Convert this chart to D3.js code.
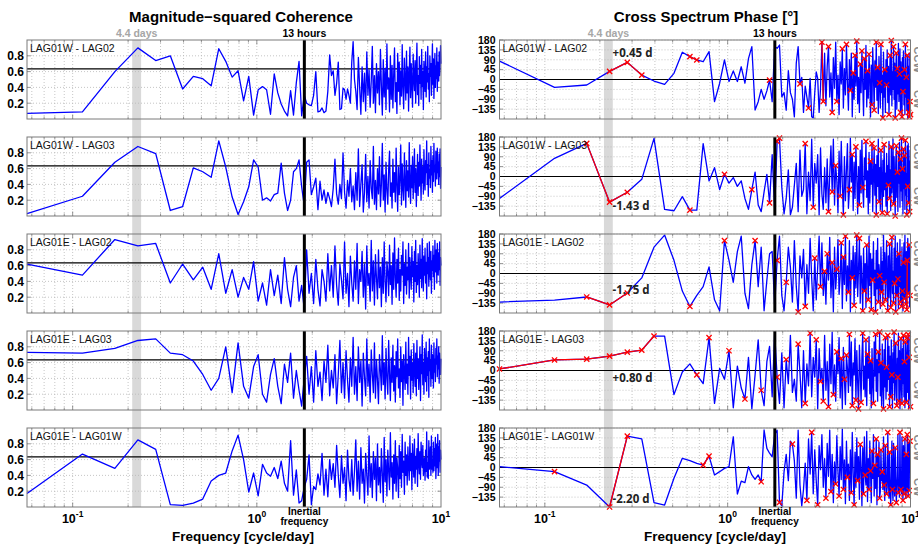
<!DOCTYPE html>
<html>
<head>
<meta charset="utf-8">
<script src="https://cdn.jsdelivr.net/npm/d3@7"></script>
<style>
  html, body { margin: 0; padding: 0; background: #fff; }
  svg { display: block; font-family: "Liberation Sans", Arial, Helvetica, sans-serif; }
</style>
</head>
<body>
<svg id="chart" width="918" height="545"></svg>
<script>
// ---- Frequency bins: uniform spectral resolution up to 10 cycles/day ----
const nBins = 177;
const freqStep = 10 / 177;             // cycle/day
const cohThreshold = 0.635;            // significance level of the coherence
const inertialFreq = 24 / 13.25;       // cycle/day (~13 hours)
const bandDays = [4.25, 4.75];         // shaded band around the 4.4-day period
const bandPeriod = 4.4;                // days, used for the time lag labels
const bandBin = 4;                     // bin index of the 4.4-day period

const pairLabels = ["LAG01W - LAG02", "LAG01W - LAG03", "LAG01E - LAG02", "LAG01E - LAG03", "LAG01E - LAG01W"];
const cohTicks = [0.2, 0.4, 0.6, 0.8];
const phaseTicks = [180, 135, 90, 45, 0, -45, -90, -135];
const decadeTicks = [{v: 0.1, exp: "-1"}, {v: 1, exp: "0"}, {v: 10, exp: "1"}];

// ---- Magnitude-squared coherence ----
const cohW02 = [
.07,.09,.60,.90,.74,.80,.38,.54,.51,.42,.89,.73,.53,.61,.23,.54,.05,.37,.41,.37,
.06,.57,.33,.19,.10,.04,.36,.05,.46,.73,.04,.30,.20,.18,.17,.30,.60,.09,.10,.14,
.08,.10,.35,.81,.55,.61,.30,.45,.72,.12,.13,.39,.37,.25,.38,.30,.20,.72,.98,.50,
.35,.12,.78,.40,.06,.66,.22,.58,.10,.85,.30,.62,.15,.48,.92,.20,.55,.08,.70,.33,
.60,.18,.88,.42,.05,.75,.28,.64,.12,.95,.38,.52,.09,.80,.25,.68,.14,.57,.90,.22,
.46,.07,.83,.35,.72,.18,.61,.29,.94,.40,.13,.77,.50,.24,.86,.33,.66,.10,.58,.91,
.27,.70,.44,.15,.82,.52,.36,.74,.20,.63,.96,.31,.55,.17,.79,.45,.68,.25,.88,.41,
.60,.12,.73,.50,.35,.85,.28,.66,.47,.92,.38,.57,.22,.80,.54,.70,.30,.62,.95,.44,
.76,.26,.58,.83,.40,.67,.51,.90,.35,.72,.60,.48,.85,.55,.65,.93,.70
];
const cohW03 = [
.03,.25,.68,.88,.79,.07,.12,.61,.56,.49,.95,.62,.24,.02,.18,.37,.71,.62,.20,.23,
.19,.27,.29,.67,.29,.07,.20,.56,.60,.71,.37,.13,.68,.71,.27,.37,.48,.08,.44,.20,
.33,.16,.30,.22,.12,.35,.72,.28,.15,.40,.22,.80,.30,.10,.45,.25,.60,.18,.38,.08,
.55,.20,.85,.12,.40,.65,.05,.30,.78,.18,.50,.10,.70,.35,.22,.88,.15,.45,.08,.60,
.28,.75,.12,.40,.92,.20,.52,.05,.68,.33,.15,.58,.82,.25,.42,.10,.72,.30,.55,.18,
.86,.38,.06,.62,.27,.48,.90,.14,.66,.35,.20,.80,.44,.11,.70,.32,.57,.24,.93,.40,
.16,.64,.36,.75,.22,.52,.85,.30,.60,.12,.45,.78,.26,.68,.38,.90,.50,.20,.72,.42,
.62,.28,.84,.46,.33,.70,.55,.95,.40,.65,.25,.80,.48,.58,.36,.88,.52,.70,.30,.76,
.44,.92,.56,.64,.38,.82,.60,.47,.86,.55,.68,.40,.78,.50,.85,.35,.62
];
const cohE02 = [
.62,.48,.93,.85,.88,.38,.62,.42,.58,.30,.75,.25,.55,.20,.45,.30,.65,.15,.38,.10,
.55,.22,.48,.12,.70,.30,.08,.45,.60,.15,.35,.05,.80,.25,.50,.12,.68,.30,.09,.55,
.40,.15,.75,.28,.60,.20,.85,.35,.10,.62,.42,.18,.90,.25,.50,.08,.72,.38,.15,.66,
.30,.88,.12,.55,.40,.78,.20,.62,.05,.85,.35,.50,.15,.92,.28,.66,.10,.74,.44,.18,
.80,.32,.58,.08,.70,.25,.90,.40,.14,.65,.52,.22,.86,.36,.60,.11,.76,.30,.95,.45,
.20,.68,.38,.82,.16,.55,.28,.73,.48,.90,.12,.62,.35,.80,.24,.58,.42,.88,.19,.70,
.50,.30,.84,.46,.65,.14,.78,.40,.92,.26,.60,.36,.75,.52,.20,.86,.44,.68,.32,.94,
.56,.28,.72,.48,.82,.38,.64,.18,.88,.50,.70,.34,.90,.58,.42,.78,.25,.66,.54,.85,
.46,.73,.30,.92,.60,.52,.80,.38,.88,.64,.48,.76,.55,.90,.35,.70,.60
];
const cohE03 = [
.73,.72,.78,.88,.90,.72,.70,.62,.45,.25,.40,.80,.22,.85,.30,.15,.55,.70,.20,.10,
.45,.65,.30,.08,.58,.35,.72,.15,.50,.25,.05,.40,.68,.20,.55,.10,.75,.30,.48,.12,
.62,.35,.82,.18,.50,.28,.70,.08,.45,.88,.22,.60,.15,.75,.38,.10,.66,.30,.92,.20,
.55,.12,.80,.35,.62,.05,.72,.42,.18,.90,.30,.58,.10,.76,.45,.22,.85,.15,.64,.38,
.08,.70,.50,.25,.94,.32,.60,.14,.78,.40,.20,.88,.46,.12,.66,.35,.82,.24,.56,.10,
.74,.42,.90,.28,.52,.16,.80,.36,.62,.06,.70,.48,.26,.86,.34,.58,.20,.92,.44,.68,
.14,.76,.38,.60,.22,.84,.50,.30,.72,.18,.88,.40,.65,.26,.54,.80,.12,.70,.46,.95,
.32,.60,.20,.78,.52,.36,.86,.24,.66,.44,.74,.16,.90,.50,.62,.30,.82,.40,.70,.56,
.28,.85,.48,.64,.36,.78,.58,.90,.42,.68,.52,.80,.34,.72,.60,.45,.65
];
const cohEW = [
.17,.67,.49,.85,.73,.03,.02,.05,.10,.33,.40,.43,.71,.91,.60,.19,.43,.14,.54,.43,
.39,.50,.36,.58,.30,.20,.84,.15,.47,.05,.08,.25,.35,.66,.03,.26,.22,.42,.28,.68,
.15,.48,.13,.60,.35,.55,.25,.78,.40,.12,.65,.30,.50,.08,.72,.35,.20,.60,.15,.45,
.85,.20,.58,.10,.75,.30,.48,.05,.68,.40,.15,.90,.25,.55,.12,.70,.35,.62,.08,.80,
.28,.50,.18,.74,.42,.06,.88,.32,.60,.14,.72,.45,.22,.94,.38,.56,.10,.66,.30,.84,
.20,.62,.48,.12,.78,.36,.70,.25,.92,.44,.58,.16,.82,.40,.66,.28,.76,.52,.34,.90,
.46,.68,.22,.80,.55,.38,.86,.30,.64,.48,.74,.26,.93,.58,.42,.70,.35,.82,.60,.50,
.78,.40,.58,.62,.34,.72,.45,.95,.38,.56,.36,.84,.48,.52,.76,.40,.90,.48,.60,.44,
.82,.46,.74,.52,.88,.36,.58,.80,.50,.92,.40,.76,.58,.84,.44,.72,.60
];

// ---- Cross spectrum phase (degrees) ----
const phaseW02 = [
84,-36,-25,36.82,78,20,-7,-22,28,124,104,89,81,127,-101,-17,89,-9,39,-9,
58,-17,95,150,-139,-101,-45,-90,-52,-3,-101,150,142,157,-79,-60,-140,40,-60,-90,
-170,75,150,-20,10,-150,-30,-80,-130,5,-170,-175,-60,35,5,-150,-40,170,-100,120,
-120,60,150,-80,30,-150,100,-40,170,-100,20,-160,80,-20,140,-130,50,-70,160,-10,
-140,90,-50,120,-170,30,-90,110,-30,175,-110,10,-150,70,-60,130,-20,-165,95,-45,
155,-125,40,-85,115,-5,-170,65,-115,145,25,-140,85,-35,170,-95,55,-155,105,-15,
-130,160,-60,20,-175,125,-80,45,-150,90,-25,135,-105,60,-160,15,110,-70,178,-120,
35,-45,150,-90,75,-175,5,120,-135,50,-65,165,-100,25,140,-150,80,-30,-170,100,
-55,130,-115,45,-160,160,-80,10,-140,110,-175,60,-150,120,-170,-100,-160
];
const phaseW03 = [
-100,83,151,-117,-72,-13,174,-150,-156,-92,-153,-153,150,-20,40,-60,10,-30,-5,-45,
-20,-100,-150,-60,20,-130,-160,-70,10,-120,100,-150,160,175,-50,-170,-100,30,-175,-140,
-40,60,-160,120,-90,-60,150,-170,20,-110,170,-140,60,-30,100,-175,130,-80,-150,40,
-120,80,-160,10,140,-70,170,-130,50,-20,-165,115,-90,160,-40,-175,90,-110,30,150,
-145,-60,175,-25,100,-155,65,-100,135,-10,-170,45,-130,120,-75,165,-50,-140,85,-15,
160,-95,25,-170,110,-120,70,-35,150,-160,5,130,-85,55,-175,95,-45,170,-115,40,
-150,120,-20,-165,75,-90,145,-60,15,-135,105,-170,50,-40,160,-100,30,-155,135,-75,
-10,170,-125,90,-50,-180,60,140,-95,20,-160,110,-30,155,-140,80,-65,175,-110,35,
-170,125,-55,95,-150,165,-85,10,-175,140,-45,150,-120,70,-160,120,-100
];
const phaseE02 = [
-130,-121,-107,-143.18,-89,-20,120,175,60,-80,-150,-100,-60,30,-120,-170,150,60,-40,100,
170,-90,-160,40,150,-60,120,-170,-30,90,100,-150,60,170,-100,-170,-40,120,30,-130,
150,-60,-175,80,-20,110,-150,40,-90,160,-20,-170,70,-120,30,170,-60,140,-100,10,
-140,90,-30,165,-110,50,-175,120,-70,20,155,-95,-15,140,-160,75,-50,170,-125,35,
-85,150,-175,60,-20,125,-145,95,-65,175,-105,25,160,-135,80,-40,-170,115,-80,45,
-155,130,5,-120,170,-55,90,-165,65,-30,145,-100,15,-175,105,-70,160,-130,40,-10,
-160,120,-85,55,-140,175,-40,95,-120,25,150,-65,-170,80,-110,135,-20,-155,60,165,
-90,10,-135,115,-45,170,-175,70,-100,140,-25,-160,90,-60,155,-130,30,-150,120,-80,
-170,50,140,-115,175,-35,-140,100,-165,60,160,-90,-40,130,-150,-100,120
];
const phaseE03 = [
7,48,52,65.45,84,93,157,157,-110,-7,30,-20,-60,150,-150,10,-40,90,-170,20,
-80,-130,60,-175,-20,140,-90,-160,40,110,-120,170,-30,-150,80,-170,50,-60,160,-100,
-40,-140,120,-10,-170,90,-150,30,-70,170,-120,60,-30,140,-175,100,-50,10,-140,160,
-90,40,-165,120,-60,175,-110,25,-140,85,-15,150,-125,55,-175,105,-40,-155,70,10,
-100,165,-70,130,-160,35,-20,145,-135,90,-55,-175,115,-5,-145,60,170,-85,20,-120,
140,-160,75,-35,155,-105,45,-170,100,-65,-150,130,-25,165,-95,50,-140,85,-10,175,
-115,35,-160,120,-50,-175,95,-75,150,-130,15,-95,160,-40,110,-165,65,-120,140,-20,
-170,80,-55,175,-135,30,125,-100,-160,55,-30,170,-140,90,-175,10,145,-85,-150,100,
-60,160,-120,40,-170,130,-10,-145,75,150,-100,165,-175,60,-130,155,-165
];
const phaseEW = [
4,-19,-80,-180,143,130,-160,-171,-49,42,31,19,11,52,-34,-19,-4,4,140,-121,
-62,-69,4,-34,-54,-34,-65,171,87,65,49,150,170,-159,-175,-20,60,-60,120,107,
30,-140,170,-80,-175,-100,20,-150,130,-30,160,-120,80,-60,-170,100,-10,150,-90,40,
-140,110,-40,170,-110,60,-160,25,-75,145,-20,-130,95,-55,175,-100,35,-165,120,-45,
15,-150,80,-115,160,-25,-170,70,-90,135,-60,50,-145,105,-5,-175,90,-120,140,-35,
-80,165,-155,40,-100,120,-15,-160,75,-50,150,-130,10,-95,130,-170,60,-40,115,-140,
-110,80,-60,-20,-100,140,-80,-150,100,-30,-120,-90,160,-45,-140,70,-110,-170,-60,120,
-100,-150,110,-75,-130,90,-20,-160,-105,-40,150,-115,-90,-135,160,-70,-100,-120,140,-95,
-150,100,-120,-60,130,-95,-140,60,-110,150,-80,-130,115,-105,100,120,90
];

const cohSeries = [cohW02, cohW03, cohE02, cohE03, cohEW];
const phaseSeries = [phaseW02, phaseW03, phaseE02, phaseE03, phaseEW];
// vertical offset of each lag label from its phase point
const lagLabelDy = [-14, 8, -11, 26, -4];

// ---- Layout ----
const rowTop0 = 40, rowStep = 97, rowH = 79;
const leftCol = [27, 441], rightCol = [499.5, 910.5];
const blue = "#0000ff", red = "#ff0000";
const gridColor = "#b8b8b8", borderColor = "#7a7a7a";

const svg = d3.select("#chart");
const freqs = d3.range(1, nBins + 1).map(k => k * freqStep);

const xL = d3.scaleLog().domain([freqStep, 10]).range(leftCol);
const xR = d3.scaleLog().domain([freqStep, 10]).range(rightCol);

// log grid positions
const logTicks = [];
[0.01, 0.1, 1].forEach(d => { for (let m = 1; m <= 9; m++) { const v = m * d; if (v > freqStep * 1.001 && v < 9.999) logTicks.push(v); } });
const isMajor = v => Math.abs(Math.log10(v) - Math.round(Math.log10(v))) < 1e-6;

// shaded 4.4-day band spanning all rows
const bandTop = rowTop0, bandBottom = rowTop0 + 4 * rowStep + rowH;
[xL, xR].forEach(x => {
  svg.append("rect")
    .attr("x", x(1 / bandDays[1])).attr("width", x(1 / bandDays[0]) - x(1 / bandDays[1]))
    .attr("y", bandTop).attr("height", bandBottom - bandTop)
    .attr("fill", "#d9d9d9");
});

function drawFrame(g, x, y, top, yTicks, yFmt, yFont, yLabelX) {
  const [x0, x1] = x.range();
  const bottom = top + rowH;
  // dotted grid
  g.selectAll(".vg").data(logTicks).join("line")
    .attr("x1", d => x(d)).attr("x2", d => x(d)).attr("y1", top).attr("y2", bottom)
    .attr("stroke", gridColor).attr("stroke-width", 0.8).attr("stroke-dasharray", "1,2");
  g.selectAll(".hg").data(yTicks).join("line")
    .attr("x1", x0).attr("x2", x1).attr("y1", d => y(d)).attr("y2", d => y(d))
    .attr("stroke", gridColor).attr("stroke-width", 0.8).attr("stroke-dasharray", "1,2");
  // tick marks on all four sides
  logTicks.forEach(v => {
    const len = isMajor(v) ? 4.5 : 2.5;
    g.append("line").attr("x1", x(v)).attr("x2", x(v)).attr("y1", bottom).attr("y2", bottom - len)
      .attr("stroke", borderColor).attr("stroke-width", 0.8);
    g.append("line").attr("x1", x(v)).attr("x2", x(v)).attr("y1", top).attr("y2", top + len)
      .attr("stroke", borderColor).attr("stroke-width", 0.8);
  });
  yTicks.forEach(v => {
    g.append("line").attr("x1", x0).attr("x2", x0 + 3.5).attr("y1", y(v)).attr("y2", y(v))
      .attr("stroke", borderColor).attr("stroke-width", 0.8);
    g.append("line").attr("x1", x1).attr("x2", x1 - 3.5).attr("y1", y(v)).attr("y2", y(v))
      .attr("stroke", borderColor).attr("stroke-width", 0.8);
    g.append("text").attr("x", yLabelX).attr("y", y(v)).attr("dy", "0.36em")
      .attr("text-anchor", "end").attr("font-weight", "bold").attr("font-size", yFont)
      .text(yFmt(v));
  });
}

function drawInertial(g, x, top) {
  g.append("line").attr("x1", x(inertialFreq)).attr("x2", x(inertialFreq))
    .attr("y1", top).attr("y2", top + rowH).attr("stroke", "#000").attr("stroke-width", 3);
}

function drawBorder(g, x, top) {
  const [x0, x1] = x.range();
  g.append("rect").attr("x", x0).attr("y", top).attr("width", x1 - x0).attr("height", rowH)
    .attr("fill", "none").attr("stroke", borderColor).attr("stroke-width", 1);
}

const fmtPhase = v => (v < 0 ? "\u2212" + Math.abs(v) : String(v));

for (let i = 0; i < 5; i++) {
  const top = rowTop0 + i * rowStep;
  const coh = cohSeries[i], ph = phaseSeries[i];
  const n = Math.min(freqs.length, coh.length, ph.length);
  const sig = d3.range(n).map(k => coh[k] > cohThreshold);

  // ---------- coherence panel ----------
  const yC = d3.scaleLinear().domain([0, 1]).range([top + rowH, top]);
  const gC = svg.append("g");
  drawFrame(gC, xL, yC, top, cohTicks, v => v.toFixed(1), 12, 24);
  gC.append("line").attr("x1", leftCol[0]).attr("x2", leftCol[1])
    .attr("y1", yC(cohThreshold)).attr("y2", yC(cohThreshold))
    .attr("stroke", "#000").attr("stroke-width", 1.1);
  gC.append("path")
    .attr("d", d3.line().x(k => xL(freqs[k])).y(k => yC(coh[k]))(d3.range(n)))
    .attr("fill", "none").attr("stroke", blue).attr("stroke-width", 1.3).attr("stroke-linejoin", "round");
  drawInertial(gC, xL, top);
  drawBorder(gC, xL, top);
  gC.append("text").attr("x", leftCol[0] + 3).attr("y", top + 12)
    .attr("font-size", 10.5).attr("fill", "#111").text(pairLabels[i]);

  // ---------- phase panel ----------
  const yP = d3.scaleLinear().domain([-180, 180]).range([top + rowH, top]);
  const gP = svg.append("g");
  drawFrame(gP, xR, yP, top, phaseTicks, fmtPhase, 10.5, 495.5);
  gP.append("line").attr("x1", rightCol[0]).attr("x2", rightCol[1])
    .attr("y1", yP(0)).attr("y2", yP(0)).attr("stroke", "#000").attr("stroke-width", 1.1);
  gP.append("path")
    .attr("d", d3.line().x(k => xR(freqs[k])).y(k => yP(ph[k]))(d3.range(n)))
    .attr("fill", "none").attr("stroke", blue).attr("stroke-width", 1.3).attr("stroke-linejoin", "round");
  // significant segments and points in red
  for (let k = 0; k < n - 1; k++) {
    if (sig[k] && sig[k + 1]) {
      gP.append("line")
        .attr("x1", xR(freqs[k])).attr("y1", yP(ph[k]))
        .attr("x2", xR(freqs[k + 1])).attr("y2", yP(ph[k + 1]))
        .attr("stroke", red).attr("stroke-width", 1.3);
    }
  }
  const s = 2.6;
  gP.selectAll(".mk").data(d3.range(n).filter(k => sig[k])).join("path")
    .attr("d", k => {
      const cx = xR(freqs[k]), cy = yP(ph[k]);
      return `M${cx - s},${cy - s}L${cx + s},${cy + s}M${cx - s},${cy + s}L${cx + s},${cy - s}`;
    })
    .attr("stroke", red).attr("stroke-width", 1.3).attr("fill", "none");
  drawInertial(gP, xR, top);
  drawBorder(gP, xR, top);
  gP.append("text").attr("x", rightCol[0] + 3).attr("y", top + 12)
    .attr("font-size", 10.5).attr("fill", "#111").text(pairLabels[i]);

  // time lag at the 4.4-day period
  const bandPhase = ph[bandBin - 1];
  const lag = bandPhase / 360 * bandPeriod;
  gP.append("text")
    .attr("x", xR(freqs[bandBin - 1]) + 3).attr("y", yP(bandPhase) + lagLabelDy[i])
    .attr("font-size", 11.5).attr("font-weight", "bold").attr("fill", "#222")
    .attr("font-family", '"Open Sans", "Liberation Sans", Arial, sans-serif')
    .text((lag >= 0 ? "+" : "-") + Math.abs(lag).toFixed(2) + " d");

  // rotation sense on the right edge
  [["CCW", 90], ["CW", -90]].forEach(([t, v]) => {
    svg.append("text")
      .attr("transform", `translate(913.5,${yP(v)}) rotate(90)`)
      .attr("text-anchor", "middle").attr("font-size", 11).attr("font-weight", "bold")
      .attr("fill", "#8a8a8a").text(t);
  });
}

// ---- Column titles and annotations ----
svg.append("text").attr("x", 241).attr("y", 22).attr("text-anchor", "middle")
  .attr("font-size", 15).attr("font-weight", "bold").text("Magnitude\u2212squared Coherence");
svg.append("text").attr("x", 706).attr("y", 22).attr("text-anchor", "middle")
  .attr("font-size", 15).attr("font-weight", "bold").text("Cross Spectrum Phase [\u00b0]");

const lastBottom = rowTop0 + 4 * rowStep + rowH;
[[xL, 243], [xR, 715]].forEach(([x, labelX]) => {
  const bandMid = Math.sqrt(1 / bandDays[0] * (1 / bandDays[1]));
  svg.append("text").attr("x", x(bandMid)).attr("y", 37).attr("text-anchor", "middle")
    .attr("font-size", 10.5).attr("font-weight", "bold").attr("fill", "#a6a6a6").text("4.4 days");
  svg.append("text").attr("x", x(inertialFreq)).attr("y", 37).attr("text-anchor", "middle")
    .attr("font-size", 10.5).attr("font-weight", "bold").text("13 hours");
  svg.append("text").attr("x", x(inertialFreq)).attr("y", lastBottom + 8).attr("text-anchor", "middle")
    .attr("font-size", 10).attr("font-weight", "bold").text("Inertial");
  svg.append("text").attr("x", x(inertialFreq)).attr("y", lastBottom + 18).attr("text-anchor", "middle")
    .attr("font-size", 10).attr("font-weight", "bold").text("frequency");
  decadeTicks.forEach(d => {
    const t = svg.append("text").attr("x", x(d.v)).attr("y", lastBottom + 16)
      .attr("text-anchor", "middle").attr("font-weight", "bold").attr("font-size", 12.5);
    t.append("tspan").text("10");
    t.append("tspan").attr("dy", -6).attr("font-size", 8.5).text(d.exp);
  });
  svg.append("text").attr("x", labelX).attr("y", 541).attr("text-anchor", "middle")
    .attr("font-size", 13.5).attr("font-weight", "bold").text("Frequency [cycle/day]");
});
</script>
</body>
</html>
